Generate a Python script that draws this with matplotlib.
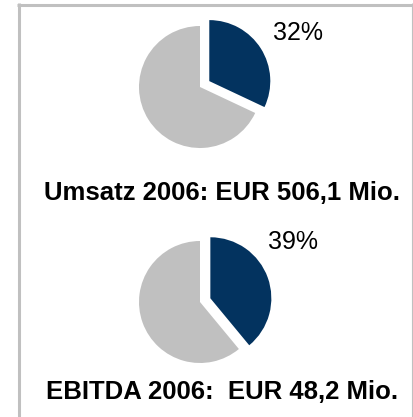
import matplotlib
matplotlib.use("Agg")
import matplotlib.pyplot as plt

# Data
pie_titles = ["Umsatz 2006: EUR 506,1 Mio.", "EBITDA 2006:  EUR 48,2 Mio."]
share_values = [32, 39]
share_labels = ["32%", "39%"]

W, H = 413, 417
plt.rcParams['font.family'] = ['Liberation Sans', 'DejaVu Sans']
fig = plt.figure(figsize=(W / 100, H / 100), dpi=100)
ax = fig.add_axes([0, 0, 1, 1])

dark = "#03335F"
gray = "#C0C0C0"

centers = [(200, H - 87), (200, H - 302)]
label_pos = [(298, H - 33), (293, H - 242)]
title_pos = [(222, H - 193), (222, H - 392)]
radius = 61

for i in range(2):
    v = share_values[i]
    ax.pie([v, 100 - v], colors=[dark, gray], startangle=90, counterclock=False,
           explode=[11, 0], center=centers[i], radius=radius, frame=True,
           wedgeprops=dict(linewidth=0))
    ax.text(*label_pos[i], share_labels[i], fontsize=18, ha="center", va="center",
            color="black")
    ax.text(*title_pos[i], pie_titles[i], fontsize=18.5, fontweight="bold",
            ha="center", va="center", color="black")

# border
ax.plot([17, 412], [H - 4.5, H - 4.5], color=gray, lw=2.2, solid_capstyle="butt")
ax.plot([18.5, 18.5], [H - 3, 0], color=gray, lw=2.2, solid_capstyle="butt")
ax.plot([411.5, 411.5], [H - 3, 0], color=gray, lw=0.8, solid_capstyle="butt")

ax.set_xlim(0, W)
ax.set_ylim(0, H)
ax.set_aspect("equal")
ax.axis("off")

fig.savefig("out.png", dpi=100)
